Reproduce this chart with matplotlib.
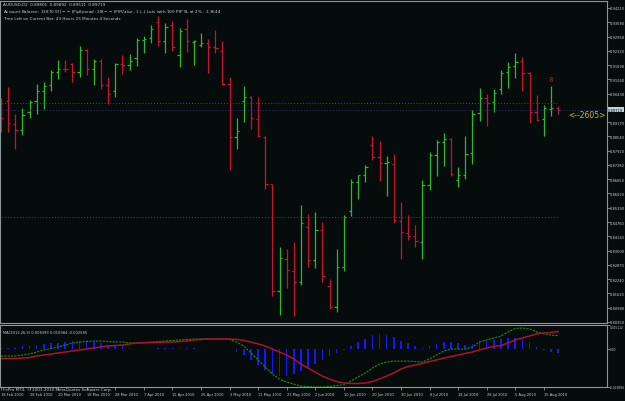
import numpy as np
import matplotlib
matplotlib.use("Agg")
import matplotlib.pyplot as plt
from matplotlib.transforms import blended_transform_factory

# ----------------------------- #
# datos del grafico (AUDUSD)
# ----------------------------- #
opens = [0.8984, 0.9010, 0.8909, 0.8882, 0.8962, 0.9010, 0.9055, 0.9081, 0.9138, 0.9152,
         0.9174, 0.9138, 0.9236, 0.9152, 0.9187, 0.9081, 0.9055, 0.9174, 0.9169, 0.9200,
         0.9280, 0.9289, 0.9359, 0.9275, 0.9346, 0.9214, 0.9328, 0.9270, 0.9258, 0.9266,
         0.9249, 0.9231, 0.9085, 0.8851, 0.9010, 0.9028, 0.8931, 0.8851, 0.8644, 0.8172,
         0.8313, 0.8260, 0.8211, 0.8454, 0.8308, 0.8441, 0.8194, 0.8101, 0.8278, 0.8525,
         0.8653, 0.8684, 0.8816, 0.8763, 0.8737, 0.8732, 0.8481, 0.8428, 0.8414, 0.8388,
         0.8640, 0.8772, 0.8829, 0.8843, 0.8662, 0.8684, 0.8781, 0.8957, 0.9024, 0.9006,
         0.9063, 0.9138, 0.9165, 0.9187, 0.9134, 0.8962, 0.8931, 0.8975, 0.89801]
highs = [0.9024, 0.9072, 0.8953, 0.8980, 0.9015, 0.9085, 0.9094, 0.9147, 0.9191, 0.9191,
         0.9178, 0.9253, 0.9240, 0.9196, 0.9196, 0.9116, 0.9178, 0.9214, 0.9218, 0.9289,
         0.9297, 0.9346, 0.9386, 0.9355, 0.9364, 0.9333, 0.9372, 0.9278, 0.9311, 0.9284,
         0.9324, 0.9275, 0.9116, 0.8935, 0.9077, 0.9033, 0.9028, 0.8856, 0.8646, 0.8366,
         0.8357, 0.8388, 0.8551, 0.8512, 0.8520, 0.8476, 0.8225, 0.8357, 0.8507, 0.8666,
         0.8684, 0.8728, 0.8856, 0.8834, 0.8768, 0.8776, 0.8564, 0.8507, 0.8463, 0.8662,
         0.8785, 0.8838, 0.8869, 0.8845, 0.8719, 0.8856, 0.8971, 0.9068, 0.9041, 0.9063,
         0.9147, 0.9183, 0.9222, 0.9205, 0.9138, 0.9037, 0.8993, 0.9077, 0.89892]
lows = [0.8874, 0.8874, 0.8799, 0.8860, 0.8935, 0.8953, 0.8975, 0.9055, 0.9108, 0.9138,
        0.9094, 0.9116, 0.9125, 0.9081, 0.9063, 0.8997, 0.9028, 0.9130, 0.9147, 0.9165,
        0.9222, 0.9266, 0.9253, 0.9222, 0.9231, 0.9161, 0.9227, 0.9169, 0.9249, 0.9134,
        0.9222, 0.9081, 0.8706, 0.8799, 0.8918, 0.8887, 0.8851, 0.8622, 0.8149, 0.8066,
        0.8185, 0.8061, 0.8198, 0.8278, 0.8273, 0.8211, 0.8092, 0.8079, 0.8260, 0.8503,
        0.8578, 0.8653, 0.8750, 0.8657, 0.8591, 0.8472, 0.8313, 0.8397, 0.8366, 0.8313,
        0.8617, 0.8679, 0.8723, 0.8679, 0.8631, 0.8666, 0.8732, 0.8922, 0.8900, 0.8962,
        0.9041, 0.9068, 0.9112, 0.9055, 0.8913, 0.8922, 0.8856, 0.8944, 0.89511]
closes = [0.8935, 0.8913, 0.8882, 0.8949, 0.9006, 0.9055, 0.9077, 0.9138, 0.9152, 0.9150,
          0.9138, 0.9236, 0.9152, 0.9187, 0.9081, 0.9041, 0.9174, 0.9169, 0.9187, 0.9280,
          0.9284, 0.9328, 0.9275, 0.9337, 0.9249, 0.9319, 0.9275, 0.9276, 0.9266, 0.9249,
          0.9244, 0.9085, 0.8851, 0.8878, 0.9028, 0.8935, 0.8856, 0.8644, 0.8172, 0.8317,
          0.8264, 0.8211, 0.8472, 0.8308, 0.8441, 0.8238, 0.8101, 0.8278, 0.8498, 0.8653,
          0.8682, 0.8719, 0.8763, 0.8737, 0.8741, 0.8485, 0.8432, 0.8414, 0.8392, 0.8640,
          0.8772, 0.8829, 0.8843, 0.8688, 0.8684, 0.8776, 0.8953, 0.9024, 0.9002, 0.9046,
          0.9134, 0.9161, 0.9183, 0.9134, 0.8962, 0.8927, 0.8980, 0.8980, 0.89719]

# MACD en pips (1e-4)
macd_main = [-44, -44, -44, -38, -32, -19, -6, 3, 13, 25,
             38, 44, 47, 50, 50, 47, 44, 44, 38, 38,
             41, 44, 47, 50, 54, 57, 60, 63, 63, 63,
             63, 63, 60, 44, 19, -25, -69, -113, -158, -189,
             -208, -221, -233, -236, -239, -239, -236, -230, -224, -202,
             -176, -151, -120, -95, -82, -76, -76, -76, -79, -82,
             -63, -38, -13, 0, 0, 0, 13, 44, 57, 69,
             82, 107, 129, 132, 126, 107, 95, 88, 84]
macd_signal = [-60, -60, -60, -57, -54, -44, -38, -32, -25, -19,
               -13, -6, 0, 6, 13, 19, 22, 25, 32, 38,
               38, 41, 41, 44, 44, 47, 50, 57, 60, 63,
               63, 63, 63, 60, 54, 44, 32, 19, 0, -19,
               -38, -63, -95, -120, -145, -170, -189, -205, -214, -217,
               -217, -214, -205, -189, -170, -151, -126, -110, -101, -91,
               -79, -69, -57, -47, -38, -28, -19, -6, 6, 16,
               22, 38, 57, 69, 82, 95, 101, 104, 110]
macd_hist = [6, 6, 9, 19, 22, 25, 32, 35, 38, 44,
             50, 50, 47, 44, 38, 28, 22, 19, 6, 0,
             3, 3, 6, 6, 9, 9, 9, 6, 3, 0,
             0, 0, -3, -16, -35, -69, -101, -132, -158, -170,
             -170, -158, -139, -117, -95, -69, -47, -25, -9, 16,
             41, 63, 85, 95, 88, 76, 50, 35, 22, 9,
             16, 32, 44, 47, 38, 28, 32, 50, 50, 54,
             60, 69, 72, 63, 44, 13, -6, -16, -26]

price_ticks = [0.94210, 0.93580, 0.92950, 0.92320, 0.91690, 0.91060, 0.90430,
               0.89170, 0.88540, 0.87910, 0.87280, 0.86650, 0.86020, 0.85390,
               0.84760, 0.84130, 0.83500, 0.82870, 0.82240, 0.81610, 0.80980, 0.80350]
date_labels = ["18 Feb 2010", "28 Feb 2010", "10 Mar 2010", "18 Mar 2010", "28 Mar 2010",
               "7 Apr 2010", "15 Apr 2010", "25 Apr 2010", "3 May 2010", "11 May 2010",
               "23 May 2010", "2 Jun 2010", "10 Jun 2010", "20 Jun 2010", "30 Jun 2010",
               "8 Jul 2010", "18 Jul 2010", "28 Jul 2010", "5 Aug 2010", "15 Aug 2010"]
levels = [0.90016, 0.84982]
macd_ticks = [0.0151, 0.0, -0.0239]
macd_tick_labels = ["0.015112", "0.00", "-0.023894"]

# ----------------------------- #
# colores / figura
# ----------------------------- #
BG = "#060b0c"
EDGE = "#8a9898"
TXT = "#c8d0d0"
UP = "#22c022"
DN = "#cc1133"

W, H = 625, 402
fig = plt.figure(figsize=(W / 100, H / 100), dpi=100, facecolor=BG)


def caja(x0, y0, x1, y1):
    return [x0 / W, 1 - y1 / H, (x1 - x0) / W, (y1 - y0) / H]


ax = fig.add_axes(caja(0, 2, 607, 324))
ax2 = fig.add_axes(caja(0, 326, 607, 388), sharex=ax)

x = np.arange(len(closes))
o = np.array(opens)
c = np.array(closes)
cols = [UP if cc >= oo else DN for oo, cc in zip(o, c)]

# barras OHLC
ax.vlines(x, lows, highs, colors=cols, lw=0.9)
ax.hlines(o, x - 0.32, x, colors=cols, lw=0.9)
ax.hlines(c, x, x + 0.32, colors=cols, lw=0.9)

# lineas horizontales
ax.hlines(levels, -0.2, x[-1] - 0.2, colors="#7a2a8a", lw=0.7, linestyles=(0, (1, 2)))
ax.axhline(c[-1], color="#352e70", lw=0.7, ls=(0, (1, 2)))

ax.text(x[-1] + 1.4, 0.8949, "<--2605>", color="#d8c000", fontsize=5.5,
        ha="left", va="center")
ax.text(x[-2], 0.9108, "8", color="#cc1020", fontsize=5, ha="center", va="center")

ax.set_xlim(-0.13, 84.85)
ax.set_ylim(0.80302, 0.94519)

for a in (ax, ax2):
    a.set_facecolor(BG)
    for s in a.spines.values():
        s.set_color(EDGE)
        s.set_linewidth(0.8)
    a.yaxis.tick_right()
    a.tick_params(axis="y", colors=EDGE, labelcolor=TXT, labelsize=2.6,
                  length=1.8, width=0.6, pad=0.4)

ax.set_yticks(price_ticks)
ax.set_yticklabels([f"{v:.5f}" for v in price_ticks])
ax.tick_params(axis="x", bottom=False, labelbottom=False)

# etiqueta del precio actual
tr = blended_transform_factory(ax.transAxes, ax.transData)
ax.text(1.002, c[-1], f"{c[-1]:.5f}", transform=tr, fontsize=2.6, color="#000000",
        ha="left", va="center", bbox=dict(fc="#c0d0dc", ec="none", pad=0.3))

# ----------------------------- #
# MACD
# ----------------------------- #
ax2.bar(x, np.array(macd_hist) / 1e4, width=0.22, color="#1515ff")
ax2.plot(x, np.array(macd_main) / 1e4, color="#129012", lw=0.8, ls=(0, (2, 1)))
ax2.plot(x, np.array(macd_signal) / 1e4, color="#b0102a", lw=1.1)
ax2.set_ylim(-0.0239, 0.0151)
ax2.set_yticks(macd_ticks)
ax2.set_yticklabels(macd_tick_labels)
for lab, va in zip(ax2.get_yticklabels(), ["top", "center", "center"]):
    lab.set_va(va)
ax2.tick_params(axis="y", labelsize=2.1)

ax2.set_xticks(x[::4])
ax2.set_xticklabels(date_labels, ha="left")
ax2.tick_params(axis="x", colors=EDGE, labelcolor=TXT, labelsize=2.6,
                length=2.5, width=0.6, pad=1)

# textos
fig.text(3 / W, 1 - 4.5 / H, "AUDUSD,D2  0.89801  0.89892  0.89511  0.89719",
         color=TXT, fontsize=3, va="center")
fig.text(3 / W, 1 - 12 / H,
         "Account Balance: $13870.57 |--| Pip Spread: 28 |--| PIP Value: $1 |--| "
         "Lots with 100 PIP SL at 2% : 2.3644", color=TXT, fontsize=3, va="center")
fig.text(3 / W, 1 - 19.5 / H, "Time Left on Current Bar: 43 Hours 25 Minutes 4 Seconds",
         color=TXT, fontsize=3, va="center")
fig.text(3 / W, 1 - 333 / H, "MACD(12,26,9) 0.008399 0.010984 -0.002585",
         color=TXT, fontsize=2.6, va="center")
fig.text(3 / W, 1 - 390 / H, "FxPro MT4, \u00a9 2001-2010 MetaQuotes Software Corp.",
         color=TXT, fontsize=3, va="center")

fig.savefig("out.png", dpi=100, facecolor=BG)
